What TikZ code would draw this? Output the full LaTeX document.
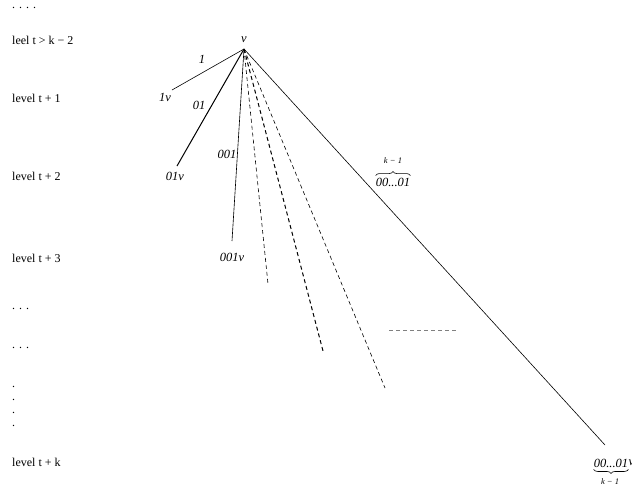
\documentclass[tikz,border=0pt]{standalone}
\usepackage{fontspec}
\setmainfont{Liberation Serif}
\usetikzlibrary{decorations.pathreplacing}
\begin{document}
\begin{tikzpicture}[x=1pt,y=-1pt,
  lvl/.style={anchor=west,inner sep=0pt,font=\fontsize{12}{14}\selectfont},
  lab/.style={inner sep=0pt,font=\fontsize{12.5}{14}\selectfont\itshape},
  small/.style={inner sep=0pt,font=\fontsize{8.5}{10}\selectfont\itshape},
  edgeline/.style={line width=0.6pt},
  dashline/.style={line width=0.6pt,dash pattern=on 4pt off 3pt},
  brc/.style={decorate,decoration={brace,amplitude=4pt},line width=0.6pt}]
\useasboundingbox (0,0) rectangle (632,488);
% level labels
\node[lvl,anchor=base west] (l0) at (12,8.5) {. . . .};
\node[lvl] (l1) at (12,40) {leel t > k − 2};
\node[lvl] (l2) at (12,98) {level t + 1};
\node[lvl] (l3) at (12,176) {level t + 2};
\node[lvl] (l4) at (12,258) {level t + 3};
\node[lvl] (l5) at (12,309) {. . .};
\node[lvl] (l6) at (12,348) {. . .};
\node[lvl] (d1) at (12,387) {.};
\node[lvl] (d2) at (12,400) {.};
\node[lvl] (d3) at (12,413) {.};
\node[lvl] (d4) at (12,426) {.};
\node[lvl] (l7) at (12,462) {level t + k};
% tree
\coordinate (v) at (244,49);
\node[lab] (vl) at (244,40) {v};
\coordinate (e1) at (172,90);
\coordinate (e2) at (177,166);
\coordinate (e3) at (232,241);
\coordinate (f1) at (268,284);
\coordinate (f2) at (323,351);
\coordinate (f3) at (385,388);
\coordinate (ek) at (605,445);
\coordinate (h1) at (389,330);
\coordinate (h2) at (458,330);
\draw[edgeline] (v) -- (e1);
\draw[edgeline,line width=1pt] (v) -- (e2);
\draw[edgeline] (v) -- (e3);
\draw[dashline] (v) -- (f1);
\draw[dashline,line width=1pt] (v) -- (f2);
\draw[dashline] (v) -- (f3);
\draw[edgeline] (v) -- (ek);
\draw[dashline,gray] (h1) -- (h2);
% edge labels
\node[lab] (t1) at (202,59) {1};
\node[lab] (t1v) at (165,97) {1v};
\node[lab] (t01) at (199,105) {01};
\node[lab] (t01v) at (175,176) {01v};
\node[lab] (t001) at (227,154) {001};
\node[lab] (t001v) at (232,257) {001v};
% top brace label
\node[lab] (tp) at (393,182) {00...01};
\draw[brc] ([yshift=2pt]tp.north west) -- ([yshift=2pt]tp.north east);
\node[small] (tk) at (393,161) {k − 1};
% bottom brace label
\node[lab] (bt) at (611,463) {00...01};
\node[lab,anchor=west] (bv) at (bt.east) {v};
\draw[brc] ([yshift=-2pt]bt.south east) -- ([yshift=-2pt]bt.south west);
\node[small] (bk) at (610,482) {k − 1};
\end{tikzpicture}
\end{document}
